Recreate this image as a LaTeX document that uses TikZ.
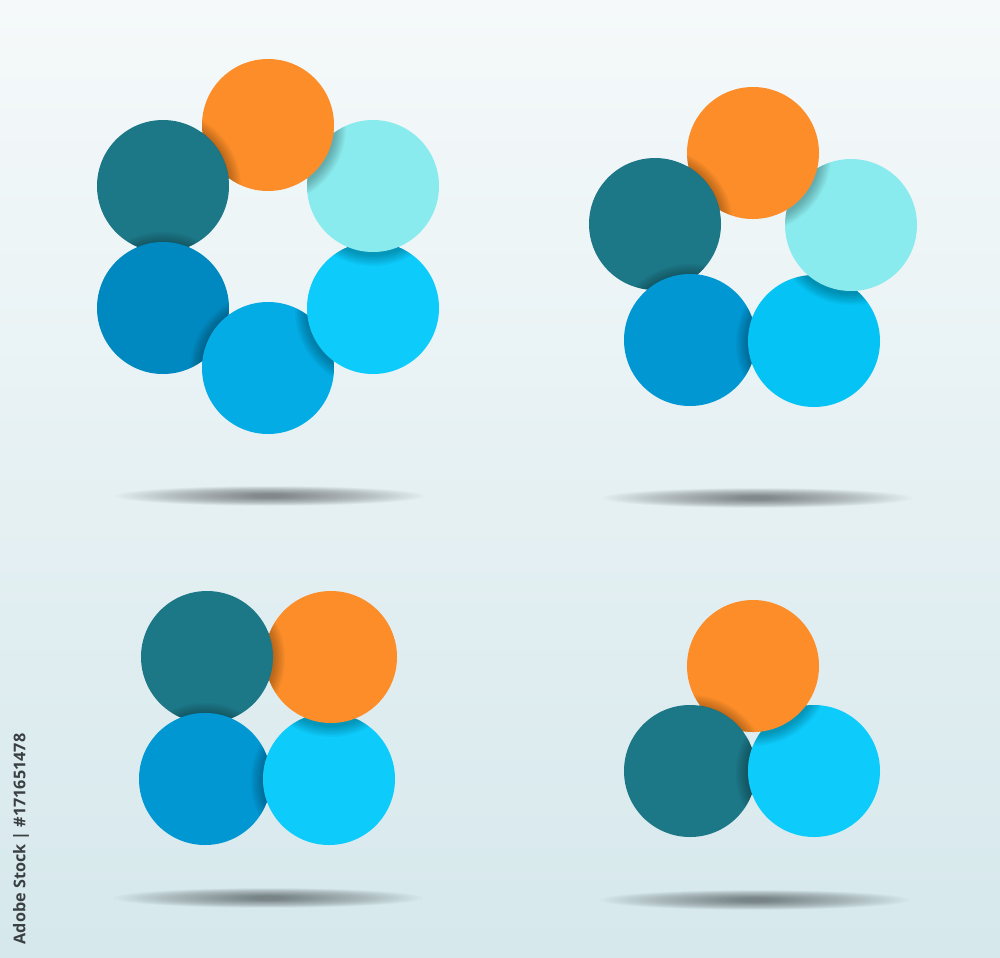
\documentclass[tikz,border=0pt]{standalone}
\usepackage{fontspec}
\newfontfamily\stockfont{Open Sans}
\usetikzlibrary{calc}
\definecolor{bgtop}{HTML}{F5F9FA}
\definecolor{bgbottom}{HTML}{D6E8EC}
\definecolor{ringorange}{HTML}{FC8D29}
\definecolor{ringteal}{HTML}{1C7787}
\definecolor{ringaqua}{HTML}{8AEBEE}
\definecolor{ringcyan}{HTML}{0DCCFC}
\definecolor{ringcyanb}{HTML}{05C4F5}
\definecolor{ringsky}{HTML}{03ACE5}
\definecolor{ringblue}{HTML}{0089C0}
\definecolor{ringmid}{HTML}{0097D3}
\definecolor{sidegray}{HTML}{3A3F42}
\newcommand{\rad}{66}
% upper disc over lower disc: shadow + colour, cut to the lower one
\newcommand{\overdisc}[3]{%
	\begin{scope}
		\clip (#3) circle[radius=\rad];
		\foreach \k in {1,...,8}
		\fill[black, opacity=0.035] ($(#1)+(0,2)$) circle[radius=\rad+1.5*\k];
	\end{scope}
	\begin{scope}
		\clip (#3) circle[radius=\rad+1.2];
		\fill[#2] (#1) circle[radius=\rad];
	\end{scope}}
% soft shadow on the floor
\newcommand{\floorshadow}[1]{%
	\foreach \k in {0,...,29}
	\fill[black, opacity=0.014] (#1) ellipse[x radius=155-4.8*\k, y radius=10-0.27*\k];}

\begin{document}
\begin{tikzpicture}[x=0.01cm, y=-0.01cm]
	\useasboundingbox (0,0) rectangle (1000,957);
	%Background
	\shade[top color=bgtop, bottom color=bgbottom] (0,0) rectangle (1000,957);
	%Floor shadows
	\coordinate (sixfloor) at (270,496);
	\coordinate (fivefloor) at (757,498);
	\coordinate (fourfloor) at (268,898);
	\coordinate (threefloor) at (755,900);
	\floorshadow{sixfloor}
	\floorshadow{fivefloor}
	\floorshadow{fourfloor}
	\floorshadow{threefloor}
	%Six circles
	\coordinate (sixorange) at (268,125);
	\coordinate (sixaqua) at (373,186);
	\coordinate (sixcyan) at (373,308);
	\coordinate (sixsky) at (268,368);
	\coordinate (sixblue) at (163,308);
	\coordinate (sixteal) at (163,186);
	\fill[ringorange] (sixorange) circle[radius=\rad];
	\fill[ringaqua] (sixaqua) circle[radius=\rad];
	\fill[ringcyan] (sixcyan) circle[radius=\rad];
	\fill[ringsky] (sixsky) circle[radius=\rad];
	\fill[ringblue] (sixblue) circle[radius=\rad];
	\fill[ringteal] (sixteal) circle[radius=\rad];
	\overdisc{sixteal}{ringteal}{sixorange}
	\overdisc{sixorange}{ringorange}{sixaqua}
	\overdisc{sixaqua}{ringaqua}{sixcyan}
	\overdisc{sixcyan}{ringcyan}{sixsky}
	\overdisc{sixsky}{ringsky}{sixblue}
	\overdisc{sixblue}{ringblue}{sixteal}
	%Five circles
	\coordinate (fiveorange) at (753,153);
	\coordinate (fiveaqua) at (851,225);
	\coordinate (fivecyan) at (814,341);
	\coordinate (fiveblue) at (690,340);
	\coordinate (fiveteal) at (655,224);
	\fill[ringorange] (fiveorange) circle[radius=\rad];
	\fill[ringaqua] (fiveaqua) circle[radius=\rad];
	\fill[ringcyanb] (fivecyan) circle[radius=\rad];
	\fill[ringmid] (fiveblue) circle[radius=\rad];
	\fill[ringteal] (fiveteal) circle[radius=\rad];
	\overdisc{fiveteal}{ringteal}{fiveorange}
	\overdisc{fiveorange}{ringorange}{fiveaqua}
	\overdisc{fiveaqua}{ringaqua}{fivecyan}
	\overdisc{fivecyan}{ringcyanb}{fiveblue}
	\overdisc{fiveblue}{ringmid}{fiveteal}
	%Four circles
	\coordinate (fourteal) at (207,657);
	\coordinate (fourorange) at (331,657);
	\coordinate (fourblue) at (205,779);
	\coordinate (fourcyan) at (329,779);
	\fill[ringteal] (fourteal) circle[radius=\rad];
	\fill[ringorange] (fourorange) circle[radius=\rad];
	\fill[ringmid] (fourblue) circle[radius=\rad];
	\fill[ringcyan] (fourcyan) circle[radius=\rad];
	\overdisc{fourteal}{ringteal}{fourorange}
	\overdisc{fourorange}{ringorange}{fourcyan}
	\overdisc{fourcyan}{ringcyan}{fourblue}
	\overdisc{fourblue}{ringmid}{fourteal}
	%Three circles
	\coordinate (threeorange) at (753,666);
	\coordinate (threeteal) at (690,771);
	\coordinate (threecyan) at (814,771);
	\fill[ringorange] (threeorange) circle[radius=\rad];
	\fill[ringteal] (threeteal) circle[radius=\rad];
	\fill[ringcyan] (threecyan) circle[radius=\rad];
	\overdisc{threeteal}{ringteal}{threeorange}
	\overdisc{threeorange}{ringorange}{threecyan}
	\overdisc{threecyan}{ringcyan}{threeteal}
	%Side label
	\node[rotate=90, anchor=west, inner sep=0pt, text=sidegray,
	font=\stockfont\bfseries\fontsize{4.6}{6}\selectfont] (stockid) at (21,945) {Adobe Stock | \#171651478};
\end{tikzpicture}
\end{document}
